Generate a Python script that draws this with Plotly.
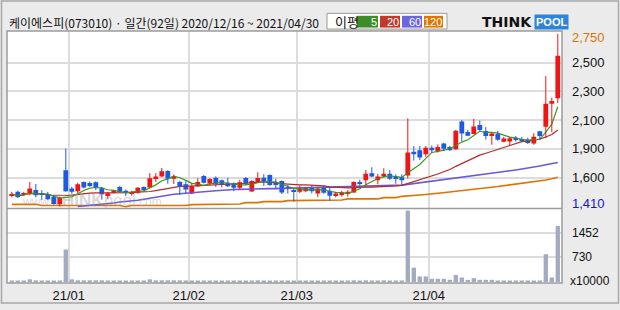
import pandas as pd
import plotly.graph_objects as go

# ---------------- data ----------------
TITLE = "케이에스피(073010) · 일간(92일) 2020/12/16 ~ 2021/04/30"
HOLIDAYS = ["2020-12-25", "2020-12-31", "2021-01-01", "2021-02-11", "2021-02-12", "2021-03-01"]
dates = [d for d in pd.bdate_range("2020-12-16", "2021-04-30") if d.strftime("%Y-%m-%d") not in HOLIDAYS]

opens = [1496, 1524, 1505, 1505, 1539, 1513, 1505, 1486, 1428, 1692,
         1549, 1528, 1600, 1593, 1598, 1555, 1498, 1522, 1562, 1532,
         1511, 1517, 1562, 1557, 1629, 1644, 1686, 1626, 1600, 1583,
         1511, 1568, 1646, 1589, 1633, 1613, 1595, 1587, 1555, 1631,
         1526, 1600, 1633, 1654, 1593, 1608, 1562, 1537, 1524, 1529,
         1557, 1511, 1555, 1532, 1496, 1507, 1511, 1519, 1600, 1613,
         1669, 1613, 1644, 1664, 1644, 1638, 1651, 1836, 1846, 1816,
         1867, 1842, 1900, 1872, 1854, 2070, 1989, 1973, 2042, 1996,
         1962, 1973, 1913, 1915, 1941, 1933, 1928, 1900, 1994, 2029,
         2207, 2250]
closes = [1507, 1482, 1513, 1549, 1498, 1505, 1466, 1429, 1479, 1528,
          1524, 1583, 1557, 1570, 1555, 1505, 1513, 1532, 1524, 1517,
          1524, 1555, 1539, 1629, 1644, 1684, 1626, 1644, 1568, 1542,
          1568, 1600, 1595, 1623, 1583, 1583, 1568, 1555, 1598, 1587,
          1608, 1631, 1606, 1577, 1583, 1519, 1547, 1524, 1549, 1555,
          1529, 1549, 1517, 1494, 1511, 1517, 1524, 1600, 1587, 1664,
          1644, 1644, 1664, 1626, 1631, 1613, 1829, 1816, 1791, 1867,
          1846, 1872, 1859, 1846, 1999, 1976, 1960, 2032, 2004, 1958,
          1977, 1928, 1939, 1941, 1928, 1920, 1903, 1951, 1958, 2207,
          2230, 2580]
highs = [1524, 1532, 1524, 1600, 1585, 1537, 1524, 1499, 1486, 1859,
         1562, 1593, 1604, 1604, 1606, 1562, 1524, 1539, 1570, 1542,
         1532, 1562, 1566, 1669, 1669, 1709, 1692, 1659, 1610, 1606,
         1587, 1631, 1654, 1629, 1644, 1619, 1633, 1597, 1618, 1638,
         1613, 1676, 1661, 1659, 1626, 1612, 1577, 1547, 1575, 1562,
         1575, 1557, 1575, 1562, 1524, 1532, 1537, 1606, 1618, 1694,
         1715, 1664, 1707, 1694, 1659, 1659, 2095, 1880, 1880, 1880,
         1884, 1892, 1905, 1882, 2004, 2082, 2006, 2091, 2078, 2027,
         1983, 1996, 1951, 1951, 1958, 1951, 1945, 1979, 1996, 2423,
         2255, 2750]
lows = [1481, 1479, 1494, 1498, 1481, 1461, 1461, 1424, 1410, 1524,
        1509, 1513, 1551, 1562, 1537, 1463, 1466, 1513, 1517, 1492,
        1494, 1509, 1532, 1555, 1600, 1638, 1587, 1585, 1501, 1507,
        1507, 1562, 1589, 1577, 1562, 1558, 1562, 1529, 1543, 1577,
        1524, 1593, 1570, 1570, 1545, 1507, 1511, 1448, 1514, 1524,
        1511, 1482, 1509, 1452, 1481, 1486, 1486, 1517, 1570, 1575,
        1638, 1583, 1638, 1616, 1587, 1575, 1626, 1766, 1770, 1796,
        1829, 1829, 1842, 1842, 1849, 1918, 1956, 1970, 1996, 1930,
        1890, 1920, 1909, 1882, 1913, 1916, 1895, 1890, 1933, 1941,
        1989, 2212]
volumes = [30, 30, 30, 80, 50, 30, 30, 30, 30, 960,
           80, 50, 50, 50, 50, 50, 30, 30, 30, 30,
           30, 30, 30, 80, 50, 50, 50, 50, 50, 30,
           30, 30, 30, 30, 30, 30, 30, 30, 30, 30,
           30, 50, 30, 30, 30, 30, 30, 30, 30, 30,
           30, 30, 30, 30, 30, 30, 30, 50, 30, 50,
           30, 30, 50, 30, 30, 30, 2120, 425, 165, 165,
           95, 95, 95, 65, 210, 135, 65, 115, 65, 65,
           65, 30, 30, 30, 30, 30, 30, 30, 30, 820,
           135, 1660]
ma60 = [None] * 11 + [
    1410, 1414, 1418, 1424, 1428, 1431, 1437, 1445, 1448, 1452,
    1459, 1467, 1475, 1482, 1490, 1498, 1505, 1509, 1514, 1519,
    1522, 1526, 1529, 1533, 1537, 1539, 1542, 1543, 1545, 1546,
    1547, 1547, 1549, 1549, 1550, 1551, 1552, 1553, 1555, 1556,
    1558, 1559, 1559, 1560, 1562, 1563, 1565, 1566, 1568, 1568,
    1570, 1571, 1573, 1574, 1576, 1582, 1588, 1592, 1600, 1606,
    1612, 1618, 1623, 1629, 1635, 1642, 1648, 1655, 1661, 1667,
    1673, 1680, 1687, 1694, 1701, 1707, 1714, 1724, 1734, 1743,
    1752]
ma120 = ([1427] * 5 + [1418] * 14 + [1408] + [1418] * 10 + [1425] * 6 + [1430] * 3
         + [1440] * 3 + [1448] * 4 + [1456] * 4 + [1461] * 6 + [1469] * 6
         + [1479, 1479, 1479, 1489, 1494, 1495, 1499, 1503, 1507, 1512,
            1517, 1523, 1529, 1535, 1539, 1545, 1550, 1555, 1560, 1565,
            1571, 1577, 1583, 1589, 1595, 1601, 1608, 1616, 1626, 1638])
LEGEND_LABELS = ["5", "20", "60", "120"]
VOL_TICKS = [730, 1452]
VOL_UNIT = "x10000"

# ---------------- style ----------------
UP, DOWN = "#f01515", "#1d5ae4"
MA_COLORS = ["#3b9a1f", "#b8282a", "#6a5ad6", "#df7200"]
LEG_COLORS = ["#3c8c27", "#c0392b", "#6a66dc", "#dd7700"]
GRID = "#dcdcdc"
FRAME = "#9c9c9c"
NUMFONT = "Liberation Sans, Arial"
KRFONT = "Noto Sans CJK KR, Noto Sans, sans-serif"

W, H = 620, 310
PL, PR, PT, PB, SEP = 7, 562, 31, 288, 212


def px(x):
    return (x - PL) / (PR - PL)


def py(y):
    return (PB - y) / (PB - PT)


n = len(dates)
idx = list(range(n))
cs = pd.Series(closes, dtype=float)
ma5 = cs.rolling(5, min_periods=1).mean().tolist()
ma20 = cs.rolling(20, min_periods=1).mean().tolist()

hi, lo = max(highs), min(lows)
pp = (hi - lo) / 176.0
price_range = [lo - 2 * pp, hi + 3 * pp]
grid_vals = [hi - k * (hi - lo) / 6 for k in range(1, 6)]
grid_labels = [f"{int(round(g, -2)):,}" for g in grid_vals]

vol_range = [-29, 2178]

fig = go.Figure()

# MA lines
for vals, col, wd in zip([ma120, ma60, ma20, ma5], MA_COLORS[::-1], [1.6, 1.6, 1.2, 1.2]):
    fig.add_trace(go.Scatter(x=idx, y=vals, mode="lines", line=dict(color=col, width=wd),
                             connectgaps=False, yaxis="y"))

# candles
for is_up, col in [(True, UP), (False, DOWN)]:
    sel = [i for i in idx if (closes[i] >= opens[i]) == is_up]
    wx, wy = [], []
    for i in sel:
        wx += [i, i, None]
        wy += [lows[i], highs[i], None]
    fig.add_trace(go.Scatter(x=wx, y=wy, mode="lines", line=dict(color=col, width=1), yaxis="y"))
    base = [min(opens[i], closes[i]) for i in sel]
    hgt = [max(abs(closes[i] - opens[i]), 9) for i in sel]
    fig.add_trace(go.Bar(x=sel, y=hgt, base=base, width=0.8, marker=dict(color=col, line=dict(width=0)),
                         yaxis="y"))

# volume
fig.add_trace(go.Bar(x=idx, y=volumes, width=0.72, marker=dict(color="#a3abc3", line=dict(width=0)),
                     yaxis="y2"))

# month ticks
month_pos, month_txt = [], []
for i in range(1, n):
    if dates[i].month != dates[i - 1].month:
        month_pos.append(i - 0.5)
        month_txt.append(dates[i].strftime("%y/%m"))

fig.update_layout(
    width=W, height=H,
    margin=dict(l=PL, r=W - PR, t=PT, b=H - PB, pad=0),
    paper_bgcolor="#ebebeb", plot_bgcolor="white",
    showlegend=False, barmode="overlay", hovermode=False,
    xaxis=dict(range=[-0.8, n - 0.3], showgrid=True, gridcolor=GRID, gridwidth=1.5,
               tickvals=month_pos, ticktext=month_txt, ticks="", zeroline=False,
               anchor="y2", ticklabelstandoff=3,
               tickfont=dict(family=NUMFONT, size=13, color="#111")),
    yaxis=dict(domain=[py(SEP), 1], range=price_range, tickvals=grid_vals, showticklabels=False,
               showgrid=True, gridcolor=GRID, gridwidth=1.5, zeroline=False, ticks=""),
    yaxis2=dict(domain=[0, py(SEP)], range=vol_range, tickvals=VOL_TICKS, showticklabels=False,
                showgrid=True, gridcolor=GRID, gridwidth=1.5, zeroline=False, ticks=""),
)

shapes = []
ann = []
# frames
shapes.append(dict(type="rect", xref="paper", yref="paper", x0=px(1.5), x1=px(618.5), y0=py(308.5), y1=py(0.5),
                   line=dict(color="#a8a8a8", width=1.5), layer="below"))
shapes.append(dict(type="rect", xref="paper", yref="paper", x0=0, x1=1, y0=0, y1=1,
                   line=dict(color=FRAME, width=1.5)))
shapes.append(dict(type="line", xref="paper", yref="paper", x0=0, x1=1, y0=py(SEP), y1=py(SEP),
                   line=dict(color=FRAME, width=1.5)))

# price labels
LX = px(570)
ann.append(dict(xref="paper", yref="y", x=LX, y=hi, yshift=-4, text=f"{hi:,}", showarrow=False,
                xanchor="left", yanchor="middle", font=dict(family=NUMFONT, size=13, color="#d9730d")))
for g, t in zip(grid_vals, grid_labels):
    ann.append(dict(xref="paper", yref="y", x=LX, y=g, text=t, showarrow=False,
                    xanchor="left", yanchor="middle", font=dict(family=NUMFONT, size=13, color="#111")))
ann.append(dict(xref="paper", yref="y", x=LX, y=lo, yshift=3, text=f"{lo:,}", showarrow=False,
                xanchor="left", yanchor="middle", font=dict(family=NUMFONT, size=13, color="#1515c8")))
# volume labels
for v in VOL_TICKS:
    ann.append(dict(xref="paper", yref="y2", x=LX, y=v, text=str(v), showarrow=False,
                    xanchor="left", yanchor="middle", font=dict(family=NUMFONT, size=12, color="#111")))
ann.append(dict(xref="paper", yref="paper", x=px(612), y=py(286), text=VOL_UNIT, showarrow=False,
                xanchor="right", yanchor="middle", font=dict(family=NUMFONT, size=12, color="#111")))

# title
ann.append(dict(xref="paper", yref="paper", x=px(7), y=py(22), text=TITLE, showarrow=False,
                xanchor="left", yanchor="middle", font=dict(family=KRFONT, size=12, color="#111")))

# MA legend box
shapes.append(dict(type="rect", xref="paper", yref="paper", x0=px(327), x1=px(447), y0=py(29), y1=py(13),
                   fillcolor="white", line=dict(color="#9a9a9a", width=1)))
ann.append(dict(xref="paper", yref="paper", x=px(333), y=py(21), text="이평", showarrow=False,
                xanchor="left", yanchor="middle", font=dict(family=KRFONT, size=13, color="#111")))
boxes = [(357, 378), (380, 400), (402, 422), (424, 443)]
for (x0, x1), lab, col in zip(boxes, LEGEND_LABELS, LEG_COLORS):
    shapes.append(dict(type="rect", xref="paper", yref="paper", x0=px(x0), x1=px(x1), y0=py(27.5), y1=py(15.5),
                       fillcolor=col, line=dict(width=0)))
    ann.append(dict(xref="paper", yref="paper", x=px(x1 - 0.5), y=py(21.5), text=lab, showarrow=False,
                    xanchor="right", yanchor="middle", borderpad=0,
                    font=dict(family=NUMFONT, size=11, color="white")))

# logo
ann.append(dict(xref="paper", yref="paper", x=px(480), y=py(22), text="<b>THINK</b>", showarrow=False,
                xanchor="left", yanchor="middle", font=dict(family="DejaVu Sans", size=14, color="#111")))
ann.append(dict(xref="paper", yref="paper", x=px(534), y=py(22), text="<b>POOL</b>", showarrow=False,
                xanchor="left", yanchor="middle", bgcolor="#2f84d8", borderpad=1,
                font=dict(family="Liberation Sans", size=11, color="white")))

# watermark
ann.append(dict(xref="paper", yref="paper", x=px(92), y=py(204),
                text="www.<span style='font-size:17px'><b>THINK</b>pool</span>.com", showarrow=False,
                xanchor="center", yanchor="middle",
                font=dict(family="Liberation Sans", size=12, color="rgba(150,150,150,0.38)")))

fig.update_layout(shapes=shapes, annotations=ann)
fig.write_html("out.html")
